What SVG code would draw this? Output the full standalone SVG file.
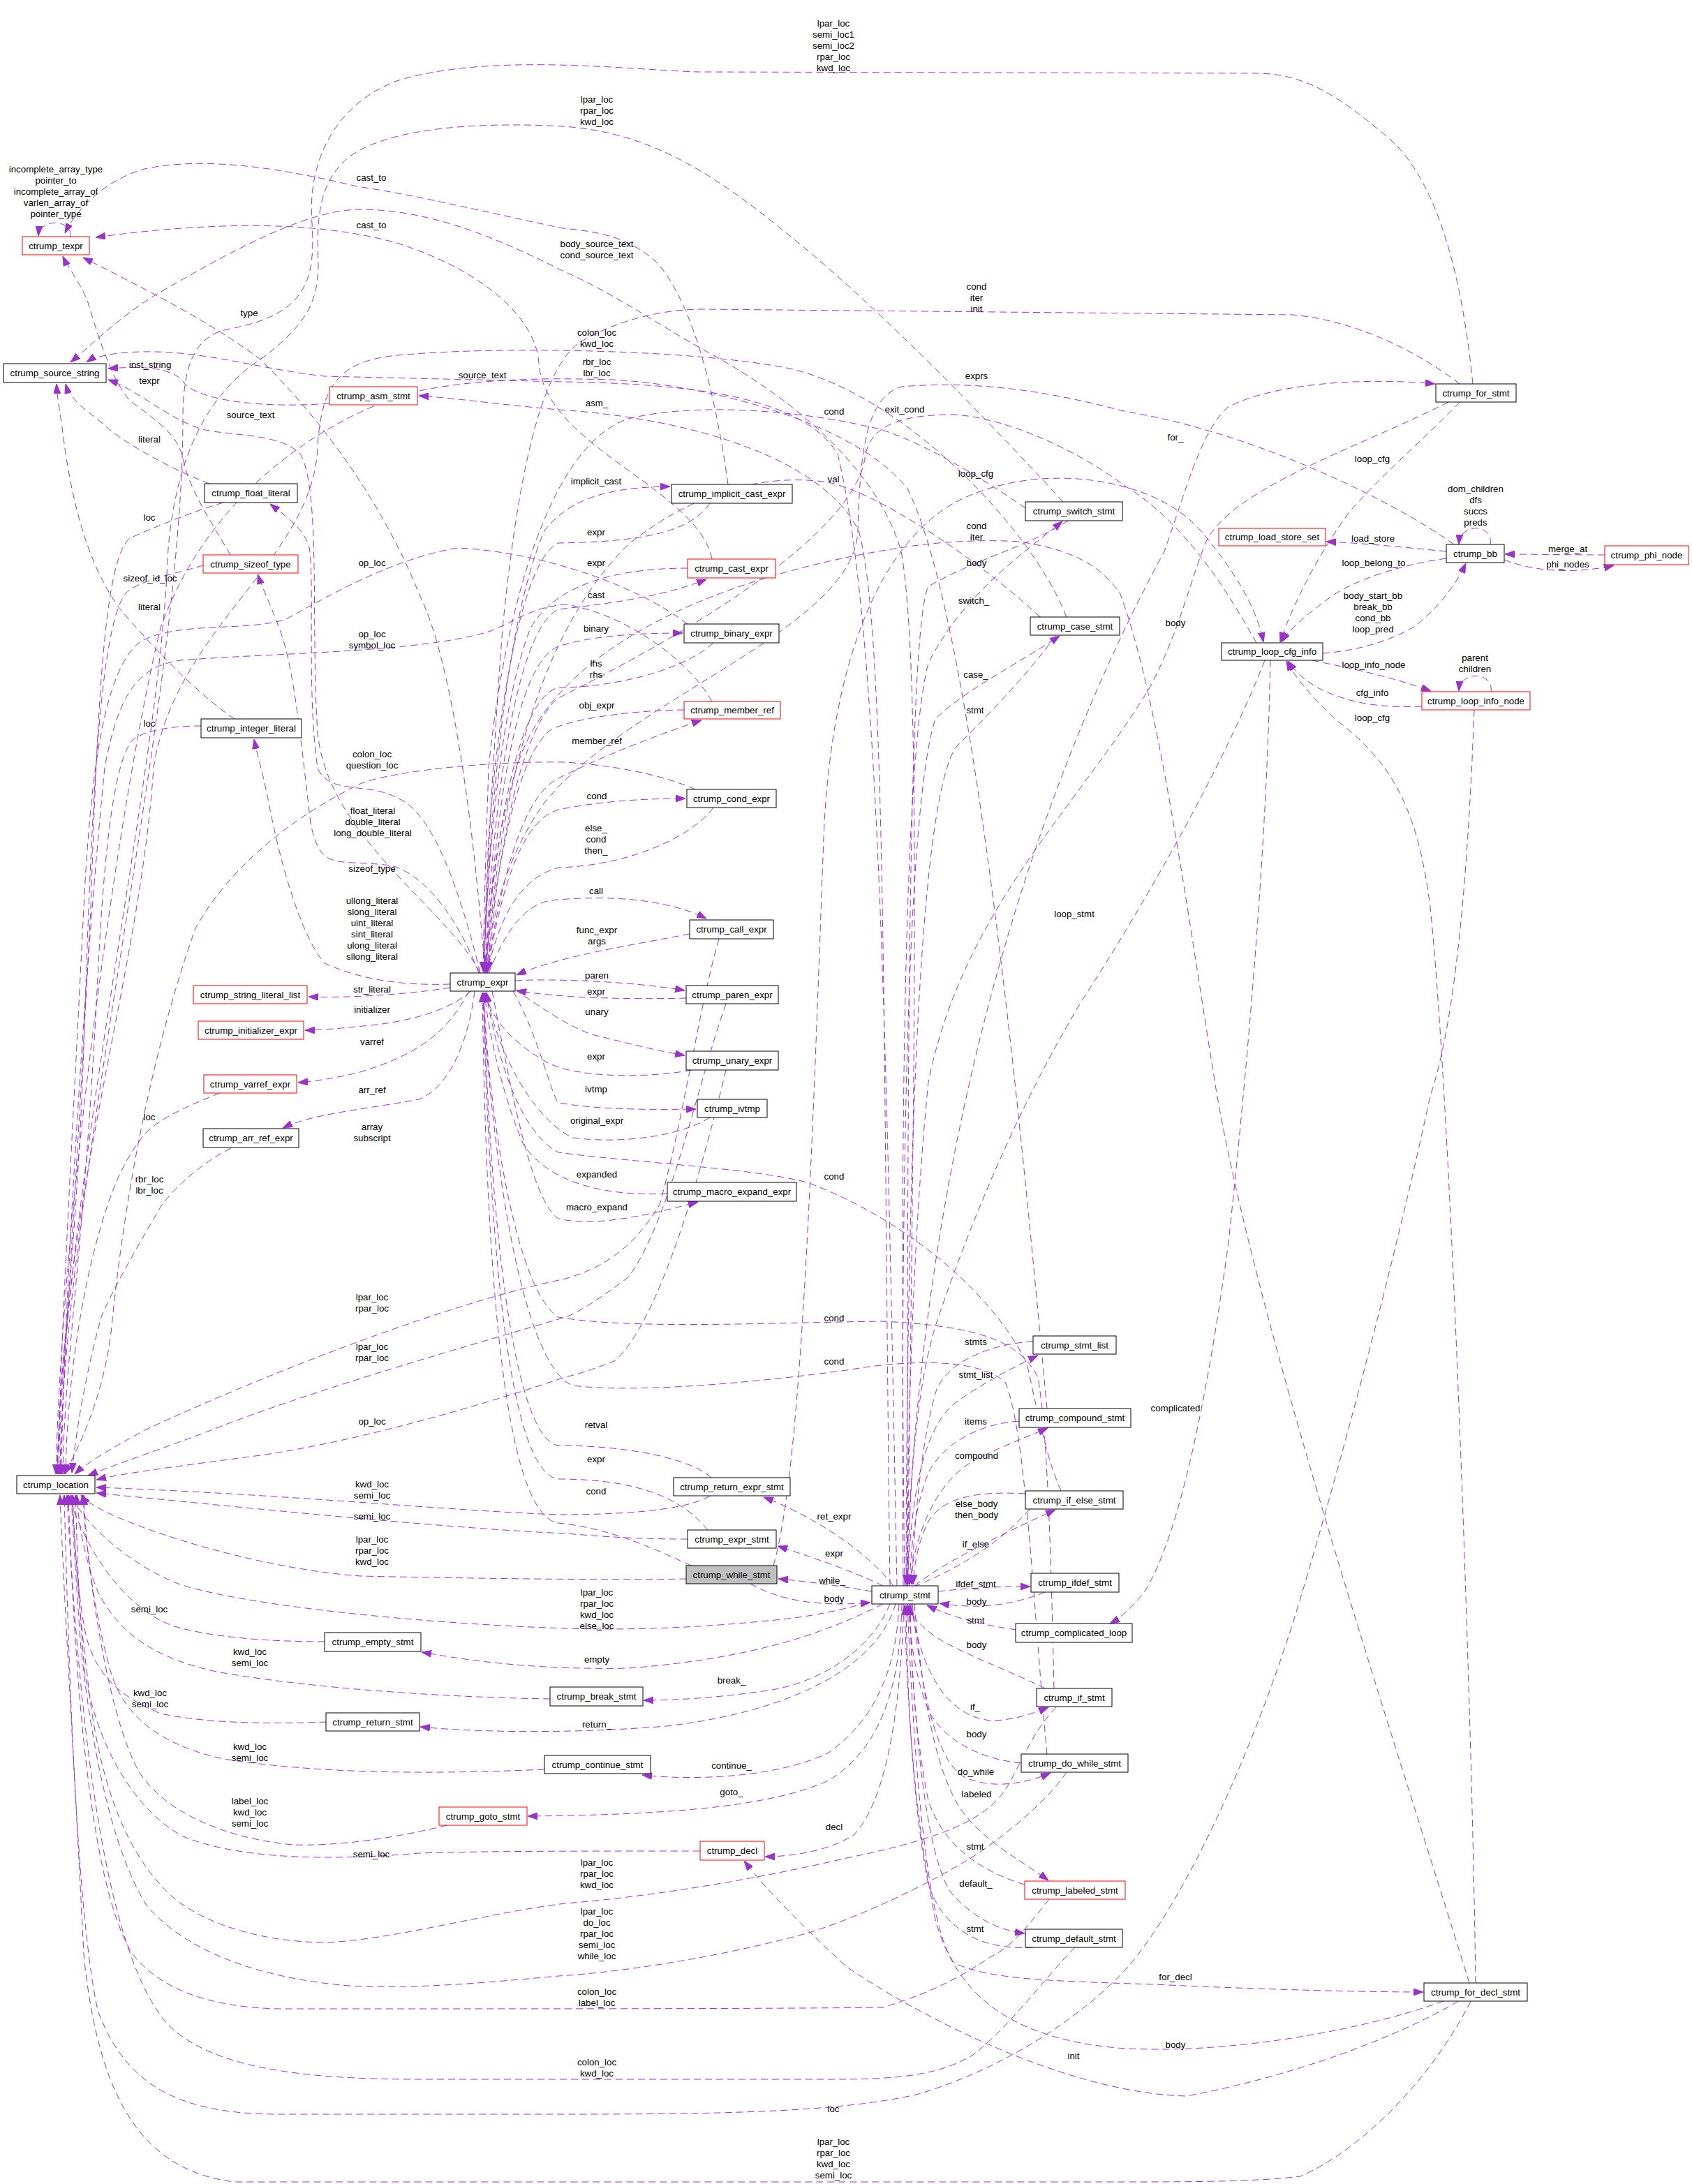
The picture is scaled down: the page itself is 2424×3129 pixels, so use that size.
<svg xmlns="http://www.w3.org/2000/svg" width="2424" height="3129" viewBox="0 0 2424 3129">
<style>
.n rect{fill:#ffffff;stroke:#000000;stroke-width:1}
.n.r rect{stroke:#ff0000}
.n.g rect{fill:#bfbfbf}
text{font-family:"Liberation Sans",Arial,sans-serif;font-size:13.3px;fill:#000000;text-anchor:middle}
.e path{fill:none;stroke:#9a32cd;stroke-width:1;stroke-dasharray:10,6;marker-end:url(#a)}
</style>
<defs>
<marker id="a" markerUnits="userSpaceOnUse" markerWidth="14" markerHeight="10" refX="14" refY="5" orient="auto" viewBox="0 0 14 10"><path d="M0,0 L14,5 L0,10 z" fill="#9a32cd" stroke="#9a32cd"/></marker>
</defs>
<rect width="2424" height="3129" fill="#ffffff"/>
<g id="edges" class="e">
<path d="M101,339 C104,314 57,312 55,338"/>
<path d="M1043,694 C1030,600 1000,440 940,375 C900,340 860,332 806,327 C700,305 600,280 511,267 C420,245 300,222 207,242 C160,255 115,290 93,334"/>
<path d="M1020,801 C1000,700 780,640 772,520 C768,460 700,390 568,348 C450,315 300,318 137,340"/>
<path d="M695,1394 C680,1200 650,950 600,850 C540,700 440,580 372,514 C300,460 200,410 119,369"/>
<path d="M330,795 C310,760 270,700 263,660 C255,620 220,600 186,574 C160,545 140,480 125,430 C112,400 98,385 90,367"/>
<path d="M472,578 C380,585 290,575 265,550 C250,527 210,524 155,528"/>
<path d="M688,1394 C640,1300 470,1200 455,1050 C445,900 460,700 430,650 C400,620 330,625 290,615 C240,600 200,560 155,544"/>
<path d="M1285,2272 C1270,1500 1260,900 1200,650 C1150,570 1000,550 806,547 L465,539 C380,530 300,505 222,504 C180,503 140,508 124,519"/>
<path d="M1300,2272 C1310,1500 1320,950 1291,790 C1260,680 1150,580 1022,509 C950,470 880,420 806,388 C720,345 620,300 516,300 C440,300 330,360 222,423 C170,455 130,495 101,519"/>
<path d="M300,693 C240,670 170,630 145,605 C120,585 100,572 94,550"/>
<path d="M336,1030 C290,1000 220,930 170,870 C120,800 100,700 90,620 C86,590 82,572 81,550"/>
<path d="M1275,2272 C1265,1500 1270,900 1230,760 C1180,660 1000,600 800,587 C700,578 650,570 600,567"/>
<path d="M2110,550 C2095,400 2060,250 1980,190 C1920,140 1870,105 1800,105 L1000,103 C900,100 700,75 568,116 C480,150 440,230 447,320 C452,400 440,450 330,471 C280,480 262,520 262,600 C262,1000 90,1700 86,2112"/>
<path d="M1523,719 C1450,640 1300,480 1162,363 C1050,270 950,190 806,181 C700,175 560,180 500,225 C450,265 455,330 456,380 C456,440 430,470 380,510 C300,560 250,650 240,800 C230,1100 90,1700 84,2112"/>
<path d="M1528,884 C1480,760 1300,570 1136,529 C1000,500 700,495 560,510 C480,520 460,560 455,640 C450,800 250,900 220,1100 C200,1400 90,1700 82,2112"/>
<path d="M1500,2018 C1470,1700 1400,900 1300,700 C1220,600 1000,550 877,544 C800,542 700,540 600,560 C480,590 300,700 230,900 C180,1100 90,1700 80,2112"/>
<path d="M291,810 C260,820 200,830 180,850 C140,900 130,1200 120,1500 C110,1800 85,1950 82,2112"/>
<path d="M985,894 C900,830 760,790 656,785 C560,800 460,860 408,888 C350,905 250,890 200,920 C150,960 130,1100 120,1300 C100,1700 85,1950 84,2112"/>
<path d="M320,720 C270,735 220,756 186,771 C150,800 140,1000 130,1300 C110,1700 90,1950 86,2112"/>
<path d="M1020,1005 C990,950 900,880 810,866 C760,870 740,890 700,905 C600,935 400,935 258,946 C200,955 170,990 150,1100 C120,1400 90,1900 88,2112"/>
<path d="M288,1040 C250,1040 210,1045 190,1060 C165,1090 150,1200 140,1400 C120,1800 92,1950 90,2112"/>
<path d="M996,1131 C960,1115 900,1098 810,1092 C700,1090 560,1105 516,1123 C420,1170 330,1240 280,1330 C220,1500 180,1700 160,1900 C150,2000 110,2080 92,2112"/>
<path d="M315,1566 C280,1580 230,1600 207,1625 C170,1670 150,1730 130,1812 C110,1900 96,2000 94,2112"/>
<path d="M331,1645 C300,1660 260,1690 232,1726 C200,1780 160,1850 145,1887 C125,1960 110,2040 103,2110"/>
<path d="M1030,1345 C1000,1450 980,1600 945,1726 C900,1800 850,1820 810,1832 C650,1865 400,1960 207,2049 C160,2075 125,2095 107,2112"/>
<path d="M1040,1438 C1000,1550 960,1750 900,1830 C860,1860 830,1880 810,1887 C700,1920 450,1990 300,2050 C220,2080 160,2100 126,2114"/>
<path d="M1040,1533 C1000,1700 940,1900 880,1950 C840,1965 830,1968 810,1973 C700,2010 500,2070 350,2088 C260,2100 180,2110 138,2120"/>
<path d="M1017,2143 C990,2160 920,2170 801,2170 C650,2165 400,2140 138,2131"/>
<path d="M985,2205 C900,2205 850,2200 810,2197 C650,2190 400,2165 138,2139"/>
<path d="M983,2262 C900,2264 700,2262 517,2258 C400,2250 250,2210 160,2170 C135,2158 122,2150 116,2142"/>
<path d="M1475,2162 C1400,2250 1250,2310 1100,2322 C1000,2332 900,2336 810,2333 C600,2326 350,2300 258,2270 C180,2240 120,2180 101,2142"/>
<path d="M465,2352 C380,2352 300,2345 250,2330 C190,2310 130,2240 98,2142"/>
<path d="M788,2434 C650,2432 450,2420 310,2395 C220,2375 170,2340 140,2280 C120,2230 112,2180 110,2142"/>
<path d="M467,2467 C400,2470 300,2470 230,2455 C170,2430 140,2400 125,2350 C112,2300 106,2200 104,2142"/>
<path d="M780,2535 C600,2543 450,2540 320,2520 C230,2500 180,2460 160,2400 C140,2330 125,2250 120,2142"/>
<path d="M640,2615 C560,2635 480,2645 420,2643 C330,2635 240,2600 200,2540 C160,2470 130,2300 118,2142"/>
<path d="M1003,2652 C800,2652 700,2652 600,2655 C450,2668 330,2660 260,2630 C190,2590 140,2500 122,2400 C112,2300 110,2200 108,2142"/>
<path d="M1513,2446 C1480,2480 1460,2530 1446,2555 C1420,2600 1370,2630 1213,2662 C1050,2700 900,2720 810,2727 C700,2740 560,2780 465,2783 C380,2782 300,2760 250,2720 C180,2660 140,2550 125,2400 C112,2300 106,2200 104,2142"/>
<path d="M1528,2539 C1500,2580 1450,2620 1420,2642 C1370,2680 1250,2740 1162,2768 C1050,2800 900,2825 800,2831 C700,2840 600,2850 500,2845 C380,2835 270,2800 210,2730 C160,2650 130,2500 115,2350 C108,2250 105,2200 102,2142"/>
<path d="M1503,2721 C1480,2750 1450,2790 1420,2803 C1380,2830 1340,2853 1265,2876 C1100,2878 800,2878 400,2878 C300,2876 230,2850 190,2800 C140,2720 110,2500 98,2142"/>
<path d="M1540,2790 C1500,2830 1450,2900 1394,2944 C1350,2970 1300,2979 1200,2979 L600,2979 C420,2979 300,2960 240,2900 C170,2820 120,2600 96,2142"/>
<path d="M2112,1017 C2105,1200 2090,1450 2049,1570 C2000,1800 1920,2100 1863,2290 C1800,2500 1700,2720 1616,2818 C1560,2880 1450,2960 1316,3000 C1200,3028 1000,3029 800,3029 L400,3029 C260,3029 180,2990 140,2880 C112,2750 100,2450 92,2142"/>
<path d="M2107,2867 C2050,2980 1950,3080 1863,3118 C1800,3126 1700,3126 1600,3126 L336,3126 C200,3110 140,3000 120,2800 C105,2500 92,2300 86,2142"/>
<path d="M1017,721 C990,760 930,776 800,778 C750,800 715,1000 700,1200 C696,1300 694,1350 693,1392"/>
<path d="M985,814 C900,814 800,830 760,900 C720,1000 700,1200 693,1392"/>
<path d="M1022,921 C980,960 880,985 800,985 C740,1000 710,1200 694,1392"/>
<path d="M980,1017 C900,1018 820,1030 790,1045 C740,1080 710,1250 695,1392"/>
<path d="M1022,1157 C990,1200 900,1240 800,1243 C740,1260 715,1320 698,1392"/>
<path d="M988,1338 C900,1355 800,1370 740,1397"/>
<path d="M983,1430 C900,1432 800,1430 740,1419"/>
<path d="M991,1533 C930,1545 820,1545 780,1520 C730,1490 705,1460 695,1422"/>
<path d="M1017,1601 C980,1625 900,1640 820,1630 C760,1600 710,1500 697,1422"/>
<path d="M956,1710 C880,1714 790,1700 750,1640 C720,1570 700,1480 694,1422"/>
<path d="M1019,2117 C990,2090 900,2071 800,2071 C730,2060 700,1700 693,1422"/>
<path d="M1014,2192 C980,2150 920,2119 800,2119 C720,2110 700,1700 692,1422"/>
<path d="M990,2243 C950,2225 880,2190 800,2182 C710,2170 695,1700 691,1422"/>
<path d="M1520,2136 C1500,2090 1490,2040 1471,1953 C1420,1850 1300,1750 1162,1696 C1100,1675 900,1665 800,1651 C740,1620 710,1500 696,1422"/>
<path d="M1510,2419 C1505,2200 1500,2050 1487,1973 C1460,1920 1400,1900 1265,1893 C1100,1895 900,1905 800,1887 C740,1850 700,1600 693,1422"/>
<path d="M1500,2513 C1480,2300 1470,2050 1440,1980 C1400,1945 1300,1948 1213,1963 C1050,1985 900,1995 820,1985 C740,1950 700,1600 692,1422"/>
<path d="M1469,728 C1400,680 1300,620 1239,610 C1150,590 1000,575 900,600 C780,640 720,900 700,1100 C695,1250 693,1330 692,1392"/>
<path d="M2083,780 C2000,720 1800,620 1610,589 C1500,560 1400,545 1291,554 C1240,570 1232,650 1229,760 C1225,900 900,1000 780,1150 C730,1220 705,1300 697,1392"/>
<path d="M1490,884 C1400,800 1250,700 1180,690 C1100,680 1000,700 900,780 C780,900 720,1100 696,1392"/>
<path d="M2091,550 C2040,510 1950,460 1852,451 L1007,443 C930,443 860,470 826,494 C770,540 740,700 720,900 C705,1100 695,1300 694,1392"/>
<path d="M2105,2841 C2000,2500 1800,1900 1742,1560 C1700,1300 1660,1000 1605,851 C1570,800 1520,786 1461,776 C1400,772 1340,778 1316,781 C1100,810 800,900 740,1100 C710,1200 700,1300 696,1392"/>
<path d="M1800,921 C1760,850 1700,750 1610,695 C1550,650 1450,600 1368,594 C1300,594 1250,605 1240,650 C1230,760 1000,900 800,1000 C740,1050 710,1250 699,1392"/>
<path d="M693,1394 C700,1200 720,900 780,760 C820,710 880,698 960,697"/>
<path d="M695,1394 C705,1150 740,900 800,873 C870,865 950,855 1012,830"/>
<path d="M696,1394 C710,1150 740,950 800,926 C850,910 920,907 978,907"/>
<path d="M697,1394 C720,1250 750,1140 800,1115 C870,1080 950,1050 1005,1032"/>
<path d="M698,1394 C720,1260 750,1175 800,1160 C860,1148 920,1144 982,1144"/>
<path d="M700,1394 C730,1320 760,1290 800,1289 C880,1282 960,1290 1012,1316"/>
<path d="M738,1405 C780,1402 900,1405 981,1419"/>
<path d="M738,1418 C770,1440 820,1475 852,1483 C900,1495 940,1505 981,1512"/>
<path d="M735,1420 C770,1480 790,1570 800,1580 C860,1590 930,1590 997,1589"/>
<path d="M705,1420 C730,1550 760,1720 800,1746 C860,1760 950,1735 1000,1722"/>
<path d="M645,1415 C580,1425 500,1430 442,1428"/>
<path d="M675,1420 C640,1450 580,1465 520,1470 C490,1473 460,1476 437,1476"/>
<path d="M672,1420 C640,1480 600,1510 516,1536 C480,1545 450,1549 427,1551"/>
<path d="M680,1420 C670,1500 640,1560 600,1575 C520,1590 450,1595 405,1616"/>
<path d="M688,1394 C660,1280 620,1160 568,1143 C530,1120 470,1140 455,1100 C440,1000 450,850 444,790 C440,760 410,740 387,722"/>
<path d="M686,1394 C650,1300 600,1250 560,1240 C480,1230 460,1250 445,1180 C430,1050 420,950 400,900 C385,860 375,840 369,823"/>
<path d="M645,1410 C580,1412 520,1405 465,1380 C430,1340 400,1230 385,1150 C375,1100 368,1080 364,1059"/>
<path d="M1075,2269 C1120,2295 1180,2302 1247,2296"/>
<path d="M1497,2281 C1450,2300 1400,2306 1346,2297"/>
<path d="M1456,2335 C1420,2330 1370,2320 1328,2300"/>
<path d="M1513,910 C1470,970 1400,1040 1370,1070 C1320,1140 1300,1600 1298,2270"/>
<path d="M1530,746 C1480,780 1400,800 1330,840 C1300,900 1300,1600 1300,2270"/>
<path d="M1480,1922 C1420,1925 1360,1950 1342,1990 C1320,2060 1310,2180 1306,2270"/>
<path d="M1460,2036 C1400,2040 1350,2070 1330,2110 C1310,2160 1305,2220 1303,2270"/>
<path d="M1469,2140 C1400,2136 1350,2145 1330,2180 C1315,2210 1310,2240 1308,2270"/>
<path d="M1497,2419 C1450,2395 1380,2370 1340,2345 C1320,2330 1305,2315 1300,2300"/>
<path d="M1463,2526 C1400,2520 1350,2490 1330,2450 C1310,2400 1303,2340 1302,2300"/>
<path d="M1468,2700 C1400,2680 1350,2640 1330,2580 C1310,2480 1305,2380 1304,2300"/>
<path d="M1480,2790 C1400,2795 1350,2760 1330,2700 C1310,2600 1300,2450 1298,2300"/>
<path d="M2068,2867 C1950,2910 1750,2945 1600,2934 C1450,2920 1370,2860 1340,2750 C1310,2600 1300,2450 1296,2300"/>
<path d="M2075,576 C1950,640 1760,700 1726,780 C1700,850 1690,900 1650,980 C1550,1150 1380,1300 1330,1550 C1305,1800 1300,2100 1299,2270"/>
<path d="M1812,946 C1760,1080 1650,1280 1549,1435 C1450,1600 1380,1780 1340,1900 C1310,2000 1302,2150 1301,2270"/>
<path d="M1249,2280 C1200,2272 1160,2266 1115,2262"/>
<path d="M1265,2272 C1220,2250 1160,2230 1114,2215"/>
<path d="M1280,2272 C1240,2220 1160,2170 1094,2145"/>
<path d="M1265,2298 C1200,2330 1100,2375 900,2390 C750,2393 650,2375 604,2367"/>
<path d="M1275,2298 C1250,2360 1180,2410 1100,2422 C1030,2432 970,2436 922,2436"/>
<path d="M1283,2298 C1260,2380 1150,2450 955,2473 C820,2484 680,2482 602,2474"/>
<path d="M1288,2298 C1285,2380 1260,2460 1187,2511 C1120,2545 1000,2552 920,2543"/>
<path d="M1292,2298 C1290,2400 1270,2500 1187,2551 C1100,2590 950,2600 756,2602"/>
<path d="M1295,2298 C1290,2450 1270,2580 1223,2629 C1190,2650 1140,2660 1096,2660"/>
<path d="M1305,2298 C1320,2400 1360,2460 1420,2465 C1450,2465 1480,2455 1502,2446"/>
<path d="M1307,2298 C1320,2420 1340,2520 1380,2545 C1420,2565 1470,2555 1505,2540"/>
<path d="M1310,2298 C1320,2420 1340,2550 1384,2602 C1420,2645 1470,2670 1502,2694"/>
<path d="M1303,2298 C1310,2500 1330,2680 1368,2718 C1400,2750 1430,2765 1468,2770"/>
<path d="M1300,2298 C1310,2550 1330,2770 1368,2813 C1420,2836 1500,2838 1653,2843 C1800,2850 1950,2854 2039,2854"/>
<path d="M1300,2272 C1305,2150 1320,2050 1368,2010 C1410,1980 1460,1955 1487,1942"/>
<path d="M1303,2272 C1310,2200 1340,2120 1400,2090 C1440,2070 1480,2055 1501,2046"/>
<path d="M1310,2272 C1350,2240 1430,2200 1512,2163"/>
<path d="M1344,2280 C1390,2275 1430,2273 1476,2273"/>
<path d="M1820,946 C1815,1200 1790,1500 1760,1780 C1730,2000 1690,2200 1640,2280 C1620,2305 1605,2318 1590,2326"/>
<path d="M1296,2272 C1290,1800 1290,1100 1330,950 C1380,850 1470,790 1522,747"/>
<path d="M1294,2272 C1290,1700 1300,1150 1340,1030 C1380,990 1460,950 1518,911"/>
<path d="M1298,2272 C1320,1600 1500,1100 1668,790 C1700,700 1720,620 1758,584 C1820,550 1950,540 2056,550"/>
<path d="M2091,576 C2050,620 1980,680 1936,730 C1890,790 1850,870 1834,920"/>
<path d="M1108,2243 C1150,2100 1165,1600 1180,1200 C1190,950 1260,780 1368,720 C1480,660 1650,680 1720,760 C1770,820 1800,870 1810,920"/>
<path d="M2114,2841 C2110,2500 2080,1600 2049,1300 C2030,1150 1990,1090 1915,1032 C1880,1000 1855,970 1843,947"/>
<path d="M2037,1012 C1990,1014 1950,1010 1915,997 C1880,985 1860,968 1845,947"/>
<path d="M1880,946 C1920,955 1980,965 2050,990"/>
<path d="M2136,991 C2140,962 2092,960 2090,990"/>
<path d="M2135,780 C2140,750 2092,748 2090,780"/>
<path d="M2072,790 C2000,783 1950,778 1900,776"/>
<path d="M2299,795 C2250,795 2200,794 2156,794"/>
<path d="M2155,802 C2200,820 2260,822 2312,810"/>
<path d="M2072,800 C2000,810 1930,835 1900,860 C1860,890 1845,905 1836,920"/>
<path d="M1895,936 C1950,932 2000,915 2030,895 C2060,870 2085,840 2100,807"/>
<path d="M2089,2867 C2000,2920 1850,2975 1700,3003 C1550,3000 1350,2910 1213,2818 C1150,2760 1100,2710 1066,2666"/>
</g>
<g id="nodes">
<g id="ctrump_texpr" class="n r"><rect x="32" y="339" width="96" height="26"/><text x="80" y="356.5">ctrump_texpr</text></g>
<g id="ctrump_source_string" class="n"><rect x="5" y="521" width="147" height="27"/><text x="78.5" y="539">ctrump_source_string</text></g>
<g id="ctrump_asm_stmt" class="n r"><rect x="472" y="554" width="126" height="26"/><text x="535" y="571.5">ctrump_asm_stmt</text></g>
<g id="ctrump_float_literal" class="n"><rect x="293" y="693" width="133" height="27"/><text x="359.5" y="711">ctrump_float_literal</text></g>
<g id="ctrump_sizeof_type" class="n r"><rect x="291" y="795" width="136" height="26"/><text x="359" y="812.5">ctrump_sizeof_type</text></g>
<g id="ctrump_integer_literal" class="n"><rect x="288" y="1030" width="144" height="27"/><text x="360" y="1048">ctrump_integer_literal</text></g>
<g id="ctrump_expr" class="n"><rect x="645" y="1394" width="93" height="26"/><text x="691.5" y="1411.5">ctrump_expr</text></g>
<g id="ctrump_string_literal_list" class="n r"><rect x="277" y="1412" width="163" height="26"/><text x="358.5" y="1429.5">ctrump_string_literal_list</text></g>
<g id="ctrump_initializer_expr" class="n r"><rect x="284" y="1463" width="151" height="26"/><text x="359.5" y="1480.5">ctrump_initializer_expr</text></g>
<g id="ctrump_varref_expr" class="n r"><rect x="292" y="1540" width="133" height="26"/><text x="358.5" y="1557.5">ctrump_varref_expr</text></g>
<g id="ctrump_arr_ref_expr" class="n"><rect x="291" y="1617" width="137" height="27"/><text x="359.5" y="1635">ctrump_arr_ref_expr</text></g>
<g id="ctrump_location" class="n"><rect x="24" y="2114" width="112" height="26"/><text x="80" y="2131.5">ctrump_location</text></g>
<g id="ctrump_implicit_cast_expr" class="n"><rect x="962" y="694" width="173" height="27"/><text x="1048.5" y="712">ctrump_implicit_cast_expr</text></g>
<g id="ctrump_cast_expr" class="n r"><rect x="985" y="801" width="126" height="27"/><text x="1048" y="819">ctrump_cast_expr</text></g>
<g id="ctrump_binary_expr" class="n"><rect x="980" y="894" width="136" height="27"/><text x="1048" y="912">ctrump_binary_expr</text></g>
<g id="ctrump_member_ref" class="n r"><rect x="980" y="1005" width="138" height="25"/><text x="1049" y="1022">ctrump_member_ref</text></g>
<g id="ctrump_cond_expr" class="n"><rect x="984" y="1131" width="128" height="26"/><text x="1048" y="1148.5">ctrump_cond_expr</text></g>
<g id="ctrump_call_expr" class="n"><rect x="988" y="1318" width="120" height="27"/><text x="1048" y="1336">ctrump_call_expr</text></g>
<g id="ctrump_paren_expr" class="n"><rect x="983" y="1412" width="132" height="26"/><text x="1049" y="1429.5">ctrump_paren_expr</text></g>
<g id="ctrump_unary_expr" class="n"><rect x="983" y="1506" width="132" height="27"/><text x="1049" y="1524">ctrump_unary_expr</text></g>
<g id="ctrump_ivtmp" class="n"><rect x="999" y="1575" width="100" height="26"/><text x="1049" y="1592.5">ctrump_ivtmp</text></g>
<g id="ctrump_macro_expand_expr" class="n"><rect x="956" y="1694" width="185" height="27"/><text x="1048.5" y="1712">ctrump_macro_expand_expr</text></g>
<g id="ctrump_return_expr_stmt" class="n"><rect x="965" y="2117" width="167" height="26"/><text x="1048.5" y="2134.5">ctrump_return_expr_stmt</text></g>
<g id="ctrump_expr_stmt" class="n"><rect x="985" y="2192" width="127" height="26"/><text x="1048.5" y="2209.5">ctrump_expr_stmt</text></g>
<g id="ctrump_while_stmt" class="n g"><rect x="983" y="2243" width="130" height="26"/><text x="1048" y="2260.5">ctrump_while_stmt</text></g>
<g id="ctrump_empty_stmt" class="n"><rect x="465" y="2339" width="138" height="27"/><text x="534" y="2357">ctrump_empty_stmt</text></g>
<g id="ctrump_break_stmt" class="n"><rect x="788" y="2417" width="133" height="27"/><text x="854.5" y="2435">ctrump_break_stmt</text></g>
<g id="ctrump_return_stmt" class="n"><rect x="467" y="2454" width="134" height="26"/><text x="534" y="2471.5">ctrump_return_stmt</text></g>
<g id="ctrump_continue_stmt" class="n"><rect x="780" y="2515" width="152" height="26"/><text x="856" y="2532.5">ctrump_continue_stmt</text></g>
<g id="ctrump_goto_stmt" class="n r"><rect x="629" y="2589" width="126" height="26"/><text x="692" y="2606.5">ctrump_goto_stmt</text></g>
<g id="ctrump_decl" class="n r"><rect x="1003" y="2638" width="92" height="27"/><text x="1049" y="2656">ctrump_decl</text></g>
<g id="ctrump_stmt" class="n"><rect x="1249" y="2272" width="95" height="26"/><text x="1296.5" y="2289.5">ctrump_stmt</text></g>
<g id="ctrump_switch_stmt" class="n"><rect x="1469" y="719" width="139" height="27"/><text x="1538.5" y="737">ctrump_switch_stmt</text></g>
<g id="ctrump_case_stmt" class="n"><rect x="1476" y="884" width="128" height="26"/><text x="1540" y="901.5">ctrump_case_stmt</text></g>
<g id="ctrump_stmt_list" class="n"><rect x="1480" y="1914" width="119" height="26"/><text x="1539.5" y="1931.5">ctrump_stmt_list</text></g>
<g id="ctrump_compound_stmt" class="n"><rect x="1460" y="2018" width="160" height="27"/><text x="1540" y="2036">ctrump_compound_stmt</text></g>
<g id="ctrump_if_else_stmt" class="n"><rect x="1469" y="2136" width="140" height="26"/><text x="1539" y="2153.5">ctrump_if_else_stmt</text></g>
<g id="ctrump_ifdef_stmt" class="n"><rect x="1477" y="2254" width="126" height="27"/><text x="1540" y="2272">ctrump_ifdef_stmt</text></g>
<g id="ctrump_complicated_loop" class="n"><rect x="1455" y="2326" width="167" height="27"/><text x="1538.5" y="2344">ctrump_complicated_loop</text></g>
<g id="ctrump_if_stmt" class="n"><rect x="1485" y="2419" width="108" height="26"/><text x="1539" y="2436.5">ctrump_if_stmt</text></g>
<g id="ctrump_do_while_stmt" class="n"><rect x="1463" y="2513" width="153" height="26"/><text x="1539.5" y="2530.5">ctrump_do_while_stmt</text></g>
<g id="ctrump_labeled_stmt" class="n r"><rect x="1468" y="2695" width="144" height="26"/><text x="1540" y="2712.5">ctrump_labeled_stmt</text></g>
<g id="ctrump_default_stmt" class="n"><rect x="1469" y="2764" width="139" height="26"/><text x="1538.5" y="2781.5">ctrump_default_stmt</text></g>
<g id="ctrump_for_decl_stmt" class="n"><rect x="2040" y="2841" width="148" height="26"/><text x="2114" y="2858.5">ctrump_for_decl_stmt</text></g>
<g id="ctrump_for_stmt" class="n"><rect x="2057" y="550" width="115" height="26"/><text x="2114.5" y="567.5">ctrump_for_stmt</text></g>
<g id="ctrump_load_store_set" class="n r"><rect x="1746" y="757" width="153" height="25"/><text x="1822.5" y="774">ctrump_load_store_set</text></g>
<g id="ctrump_bb" class="n"><rect x="2072" y="780" width="83" height="26"/><text x="2113.5" y="797.5">ctrump_bb</text></g>
<g id="ctrump_phi_node" class="n r"><rect x="2299" y="782" width="120" height="27"/><text x="2359" y="800">ctrump_phi_node</text></g>
<g id="ctrump_loop_cfg_info" class="n"><rect x="1750" y="921" width="145" height="25"/><text x="1822.5" y="938">ctrump_loop_cfg_info</text></g>
<g id="ctrump_loop_info_node" class="n r"><rect x="2037" y="991" width="155" height="26"/><text x="2114.5" y="1008.5">ctrump_loop_info_node</text></g>
</g>
<g id="labels">
<text x="80" y="247">incomplete_array_type<tspan x="80" dy="16">pointer_to</tspan><tspan x="80" dy="16">incomplete_array_of</tspan><tspan x="80" dy="16">varlen_array_of</tspan><tspan x="80" dy="16">pointer_type</tspan></text>
<text x="532" y="259">cast_to</text>
<text x="532" y="327">cast_to</text>
<text x="357" y="453">type</text>
<text x="215" y="527">inst_string</text>
<text x="214" y="550">texpr</text>
<text x="691" y="542">source_text</text>
<text x="359" y="599">source_text</text>
<text x="214" y="634">literal</text>
<text x="214" y="746">loc</text>
<text x="1194" y="38">lpar_loc<tspan x="1194" dy="16">semi_loc1</tspan><tspan x="1194" dy="16">semi_loc2</tspan><tspan x="1194" dy="16">rpar_loc</tspan><tspan x="1194" dy="16">kwd_loc</tspan></text>
<text x="855" y="147">lpar_loc<tspan x="855" dy="16">rpar_loc</tspan><tspan x="855" dy="16">kwd_loc</tspan></text>
<text x="855" y="354">body_source_text<tspan x="855" dy="16">cond_source_text</tspan></text>
<text x="1399" y="415">cond<tspan x="1399" dy="16">iter</tspan><tspan x="1399" dy="16">init</tspan></text>
<text x="855" y="481">colon_loc<tspan x="855" dy="16">kwd_loc</tspan></text>
<text x="855" y="523">rbr_loc<tspan x="855" dy="16">lbr_loc</tspan></text>
<text x="1399" y="543">exprs</text>
<text x="855" y="582">asm_</text>
<text x="1195" y="594">cond</text>
<text x="1296" y="591">exit_cond</text>
<text x="1398" y="683">loop_cfg</text>
<text x="1194" y="691">val</text>
<text x="854" y="694">implicit_cast</text>
<text x="854" y="767">expr</text>
<text x="1399" y="758">cond<tspan x="1399" dy="16">iter</tspan></text>
<text x="1684" y="631">for_</text>
<text x="1966" y="662">loop_cfg</text>
<text x="2114" y="705">dom_children<tspan x="2114" dy="16">dfs</tspan><tspan x="2114" dy="16">succs</tspan><tspan x="2114" dy="16">preds</tspan></text>
<text x="1967" y="776">load_store</text>
<text x="2246" y="791">merge_at</text>
<text x="2246" y="813">phi_nodes</text>
<text x="1968" y="811">loop_belong_to</text>
<text x="1967" y="858">body_start_bb<tspan x="1967" dy="16">break_bb</tspan><tspan x="1967" dy="16">cond_bb</tspan><tspan x="1967" dy="16">loop_pred</tspan></text>
<text x="1684" y="897">body</text>
<text x="1968" y="957">loop_info_node</text>
<text x="2113" y="947">parent<tspan x="2113" dy="16">children</tspan></text>
<text x="1966" y="997">cfg_info</text>
<text x="1966" y="1033">loop_cfg</text>
<text x="215" y="833">sizeof_id_loc</text>
<text x="533" y="811">op_loc</text>
<text x="214" y="874">literal</text>
<text x="533" y="913">op_loc<tspan x="533" dy="16">symbol_loc</tspan></text>
<text x="214" y="1041">loc</text>
<text x="533" y="1085">colon_loc<tspan x="533" dy="16">question_loc</tspan></text>
<text x="534" y="1166">float_literal<tspan x="534" dy="16">double_literal</tspan><tspan x="534" dy="16">long_double_literal</tspan></text>
<text x="533" y="1249">sizeof_type</text>
<text x="533" y="1295">ullong_literal<tspan x="533" dy="16">slong_literal</tspan><tspan x="533" dy="16">uint_literal</tspan><tspan x="533" dy="16">sint_literal</tspan><tspan x="533" dy="16">ulong_literal</tspan><tspan x="533" dy="16">sllong_literal</tspan></text>
<text x="533" y="1422">str_literal</text>
<text x="533" y="1451">initializer</text>
<text x="533" y="1497">varref</text>
<text x="533" y="1566">arr_ref</text>
<text x="214" y="1605">loc</text>
<text x="533" y="1619">array<tspan x="533" dy="16">subscript</tspan></text>
<text x="214" y="1694">rbr_loc<tspan x="214" dy="16">lbr_loc</tspan></text>
<text x="533" y="1863">lpar_loc<tspan x="533" dy="16">rpar_loc</tspan></text>
<text x="533" y="1934">lpar_loc<tspan x="533" dy="16">rpar_loc</tspan></text>
<text x="533" y="2041">op_loc</text>
<text x="533" y="2131">kwd_loc<tspan x="533" dy="16">semi_loc</tspan></text>
<text x="533" y="2177">semi_loc</text>
<text x="533" y="2210">lpar_loc<tspan x="533" dy="16">rpar_loc</tspan><tspan x="533" dy="16">kwd_loc</tspan></text>
<text x="214" y="2310">semi_loc</text>
<text x="854" y="811">expr</text>
<text x="854" y="857">cast</text>
<text x="854" y="905">binary</text>
<text x="854" y="955">lhs<tspan x="854" dy="16">rhs</tspan></text>
<text x="855" y="1015">obj_expr</text>
<text x="855" y="1066">member_ref</text>
<text x="855" y="1145">cond</text>
<text x="854" y="1191">else_<tspan x="854" dy="16">cond</tspan><tspan x="854" dy="16">then_</tspan></text>
<text x="854" y="1281">call</text>
<text x="855" y="1337">func_expr<tspan x="855" dy="16">args</tspan></text>
<text x="855" y="1402">paren</text>
<text x="854" y="1425">expr</text>
<text x="855" y="1454">unary</text>
<text x="854" y="1518">expr</text>
<text x="854" y="1565">ivtmp</text>
<text x="1399" y="811">body</text>
<text x="1395" y="865">switch_</text>
<text x="1398" y="971">case_</text>
<text x="1397" y="1022">stmt</text>
<text x="1539" y="1314">loop_stmt</text>
<text x="855" y="1610">original_expr</text>
<text x="855" y="1687">expanded</text>
<text x="1195" y="1690">cond</text>
<text x="855" y="1734">macro_expand</text>
<text x="1195" y="1893">cond</text>
<text x="1398" y="1927">stmts</text>
<text x="1195" y="1955">cond</text>
<text x="1398" y="1974">stmt_list</text>
<text x="1398" y="2041">items</text>
<text x="854" y="2046">retval</text>
<text x="1399" y="2090">compound</text>
<text x="854" y="2095">expr</text>
<text x="854" y="2141">cond</text>
<text x="1399" y="2159">else_body<tspan x="1399" dy="16">then_body</tspan></text>
<text x="1195" y="2177">ret_expr</text>
<text x="1398" y="2217">if_else</text>
<text x="1195" y="2230">expr</text>
<text x="1192" y="2269">while_</text>
<text x="1398" y="2274">ifdef_stmt</text>
<text x="855" y="2286">lpar_loc<tspan x="855" dy="16">rpar_loc</tspan><tspan x="855" dy="16">kwd_loc</tspan><tspan x="855" dy="16">else_loc</tspan></text>
<text x="1195" y="2295">body</text>
<text x="1399" y="2299">body</text>
<text x="1398" y="2326">stmt</text>
<text x="1684" y="2022">complicated</text>
<text x="358" y="2371">kwd_loc<tspan x="358" dy="16">semi_loc</tspan></text>
<text x="215" y="2430">kwd_loc<tspan x="215" dy="16">semi_loc</tspan></text>
<text x="358" y="2507">kwd_loc<tspan x="358" dy="16">semi_loc</tspan></text>
<text x="358" y="2585">label_loc<tspan x="358" dy="16">kwd_loc</tspan><tspan x="358" dy="16">semi_loc</tspan></text>
<text x="532" y="2661">semi_loc</text>
<text x="855" y="2382">empty</text>
<text x="1048" y="2412">break_</text>
<text x="1399" y="2361">body</text>
<text x="1397" y="2450">if_</text>
<text x="855" y="2475">return_</text>
<text x="1399" y="2489">body</text>
<text x="1048" y="2534">continue_</text>
<text x="1398" y="2543">do_while</text>
<text x="1048" y="2572">goto_</text>
<text x="1399" y="2575">labeled</text>
<text x="1195" y="2622">decl</text>
<text x="1397" y="2650">stmt</text>
<text x="855" y="2673">lpar_loc<tspan x="855" dy="16">rpar_loc</tspan><tspan x="855" dy="16">kwd_loc</tspan></text>
<text x="1398" y="2703">default_</text>
<text x="855" y="2743">lpar_loc<tspan x="855" dy="16">do_loc</tspan><tspan x="855" dy="16">rpar_loc</tspan><tspan x="855" dy="16">semi_loc</tspan><tspan x="855" dy="16">while_loc</tspan></text>
<text x="1397" y="2768">stmt</text>
<text x="855" y="2858">colon_loc<tspan x="855" dy="16">label_loc</tspan></text>
<text x="1538" y="2950">init</text>
<text x="855" y="2959">colon_loc<tspan x="855" dy="16">kwd_loc</tspan></text>
<text x="1194" y="3026">loc</text>
<text x="1194" y="3073">lpar_loc<tspan x="1194" dy="16">rpar_loc</tspan><tspan x="1194" dy="16">kwd_loc</tspan><tspan x="1194" dy="16">semi_loc</tspan></text>
<text x="1684" y="2837">for_decl</text>
<text x="1684" y="2934">body</text>
</g>
</svg>
